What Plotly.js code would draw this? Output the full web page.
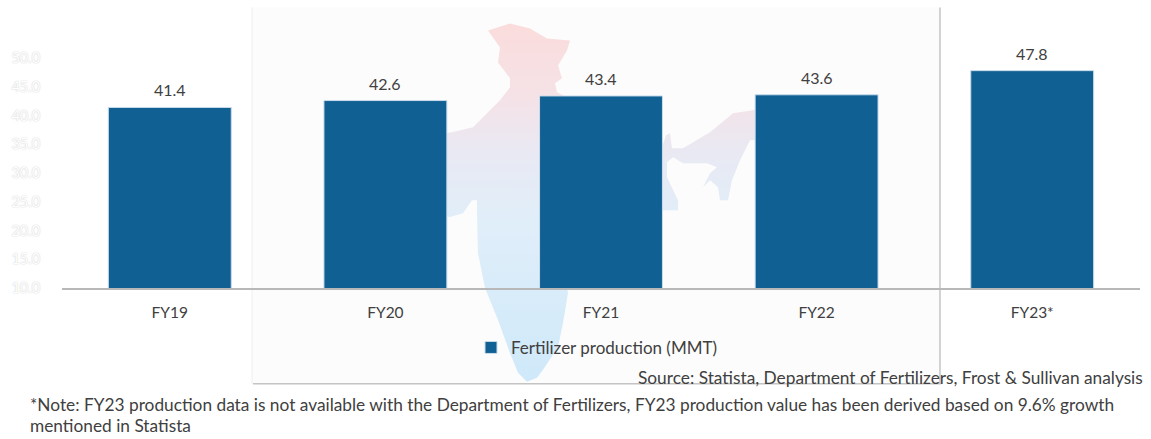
<!DOCTYPE html>
<html>
<head>
<meta charset="utf-8">
<script src="https://cdn.plot.ly/plotly-3.0.1.min.js"></script>
<style>html,body{margin:0;padding:0;background:#fff;overflow:hidden}</style>
</head>
<body>
<div id="chart" style="width:1151px;height:439px"></div>
<script>
const categories = ["FY19", "FY20", "FY21", "FY22", "FY23*"];
const production = [41.4, 42.6, 43.4, 43.6, 47.8];
const seriesName = "Fertilizer production (MMT)";
const sourceText = "Source: Statista, Department of Fertilizers, Frost & Sullivan analysis";
const noteLine1 = "*Note: FY23 production data is not available with the Department of Fertilizers, FY23 production value has been derived based on 9.6% growth";
const noteLine2 = "mentioned in Statista";

const W = 1151, H = 439;
const m = {l: 62, r: 11, t: 57.6, b: 151};
const pw = W - m.l - m.r, ph = H - m.t - m.b;
const fx = p => (p - m.l) / pw;
const fy = p => (H - m.b - p) / ph;
const FONT = "Lato, Carlito, 'Open Sans', sans-serif";

const mapPath = "M488 30 L510 23 L530 28 L547 38 L570 40 L567 50 L558 65 L562 78 L555 83 L557 92 L567 97 L600 115 L640 135 L662 147 L666 135 L670 133 L672 148 L683 148 L710 132 L733 113 L753 110 L790 100 L790 140 L750 140 L740 160 L732 180 L728 200 L720 200 L718 187 L710 180 L703 187 L710 173 L717 167 L707 163 L683 163 L673 157 L667 162 L667 177 L678 200 L678 210 L662 210 L630 235 L590 265 L567 288 L568 293 L563 323 L558 347 L543 370 L537 378 L527 382 L518 373 L510 353 L498 320 L485 288 L478 253 L477 213 L477 200 L472 200 L463 213 L450 217 L440 215 L425 190 L420 165 L430 135 L452 132 L473 127 L500 100 L510 87 L510 78 L498 62 L500 47 Z";
const backdrop = `<svg xmlns="http://www.w3.org/2000/svg" width="${W}" height="${H}" viewBox="0 0 ${W} ${H}">
<defs><linearGradient id="g" gradientUnits="userSpaceOnUse" x1="0" y1="23" x2="0" y2="382">
<stop offset="0" stop-color="#fbdcdc"/><stop offset="0.2" stop-color="#f5e2e6"/><stop offset="0.36" stop-color="#e9e9f3"/><stop offset="0.55" stop-color="#e0eef9"/><stop offset="1" stop-color="#cfe9fa"/></linearGradient></defs>
<rect x="252" y="7" width="688" height="377" fill="#fcfcfc"/>
<path d="${mapPath}" fill="url(#g)"/></svg>`;

const data = [{
  type: "bar",
  name: seriesName,
  x: categories,
  y: production,
  width: 0.57,
  marker: {color: "#116094", line: {color: "#c9dcea", width: 1}},
  showlegend: true
}];

const note = (text, x, y, anchor) => ({
  text, xref: "paper", yref: "paper", x: fx(x), y: fy(y), xanchor: anchor, yanchor: "middle",
  showarrow: false, font: {family: FONT, size: 17.3, color: "#404040"}
});
const line = (x0, y0, x1, y1, color, width) => ({
  type: "line", xref: "paper", yref: "paper", layer: "below",
  x0: fx(x0), x1: fx(x1), y0: fy(y0), y1: fy(y1), line: {color, width}
});
const valueLabels = categories.map((c, i) => ({
  text: production[i].toFixed(1), x: c, y: production[i], xref: "x", yref: "y",
  xanchor: "center", yanchor: "middle", yshift: 17.5, showarrow: false,
  font: {family: FONT, size: 16, color: "#404040"}
}));

const layout = {
  width: W, height: H, margin: m,
  paper_bgcolor: "rgba(0,0,0,0)", plot_bgcolor: "rgba(0,0,0,0)",
  xaxis: {
    type: "category", range: [-0.5, 4.5], showgrid: false, zeroline: false,
    showline: true, linecolor: "#b8b8b8", linewidth: 2,
    ticks: "outside", ticklen: 9, tickcolor: "rgba(0,0,0,0)",
    tickfont: {family: FONT, size: 15.5, color: "#404040"}
  },
  yaxis: {
    range: [10, 50], dtick: 5, tick0: 10, tickformat: ".1f",
    showgrid: false, zeroline: false, showline: false,
    ticks: "outside", ticklen: 18, tickcolor: "rgba(0,0,0,0)",
    tickfont: {family: FONT, size: 14.5, color: "#ffffff", shadow: "0 0 1.5px #bcbcbc"}
  },
  legend: {
    orientation: "h", xref: "paper", yref: "paper", x: fx(471), y: fy(348), xanchor: "left", yanchor: "middle",
    bgcolor: "rgba(0,0,0,0)", font: {family: FONT, size: 17, color: "#404040"},
    itemwidth: 30, tracegroupgap: 0
  },
  images: [{
    source: "data:image/svg+xml;charset=utf-8," + encodeURIComponent(backdrop),
    xref: "paper", yref: "paper", x: fx(0), y: fy(0), sizex: W / pw, sizey: H / ph,
    sizing: "stretch", xanchor: "left", yanchor: "top", layer: "below"
  }],
  shapes: [
    line(252, 7, 252, 384, "#eeeeee", 1),
    line(940, 7, 940, 384, "#c4c4c4", 1.5),
    line(253, 384, 941, 384, "#c4c4c4", 1.5)
  ],
  annotations: valueLabels.concat([
    note(sourceText, 1145, 378, "right"),
    note(noteLine1, 28, 405, "left"),
    note(noteLine2, 28, 426, "left")
  ])
};

Plotly.newPlot("chart", data, layout, {displayModeBar: false, staticPlot: true});
</script>
</body>
</html>
